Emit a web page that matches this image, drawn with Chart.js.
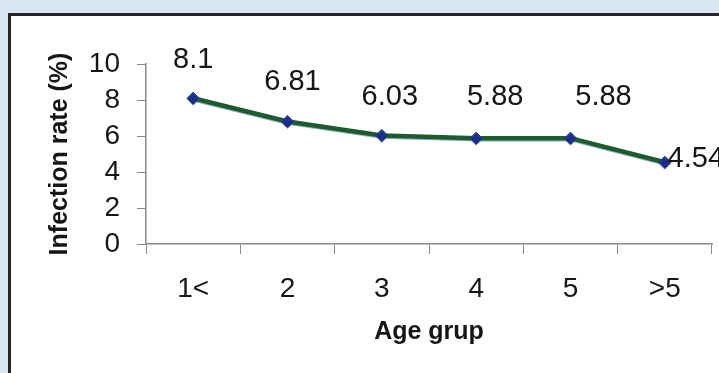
<!DOCTYPE html>
<html>
<head>
<meta charset="utf-8">
<script src="https://cdn.jsdelivr.net/npm/chart.js@4/dist/chart.umd.min.js"></script>
<style>
  html, body { margin: 0; padding: 0; }
  body { width: 719px; height: 373px; background: #d8e7f2; position: relative; overflow: hidden; }
  #frame { position: absolute; left: 8px; top: 13px; width: 720px; height: 370px;
           background: #ffffff; border-left: 3px solid #23272b; border-top: 3px solid #23272b; }
  #wrap { position: absolute; left: 0; top: 0; width: 719px; height: 373px; }
</style>
</head>
<body>
<div id="frame"></div>
<div id="wrap"><canvas id="chart" width="719" height="373"></canvas></div>
<script>
// Age groups and infection rates (%)
const ageGroups = ['1<', '2', '3', '4', '5', '>5'];
const infectionRates = [8.1, 6.81, 6.03, 5.88, 5.88, 4.54];
const yTicks = [0, 2, 4, 6, 8, 10];

// Where each value label sits relative to its point (px)
const labelOffsets = [[0, -38], [5, -39], [8, -38], [19, -41], [33, -41], [31, -3]];

const FONT = '"Liberation Sans", Arial, sans-serif';

const valueLabels = {
  id: 'valueLabels',
  afterDatasetsDraw(chart) {
    const { ctx } = chart;
    const meta = chart.getDatasetMeta(0);
    ctx.save();
    ctx.font = '29px ' + FONT;
    ctx.fillStyle = '#161616';
    ctx.textAlign = 'center';
    ctx.textBaseline = 'middle';
    meta.data.forEach((pt, i) => {
      const [dx, dy] = labelOffsets[i];
      ctx.fillText(String(infectionRates[i]), pt.x + dx, pt.y + dy);
    });
    ctx.restore();
  }
};

const lineShadow = {
  id: 'lineShadow',
  beforeDatasetDraw(chart) {
    const { ctx } = chart;
    ctx.save();
    ctx.shadowColor = 'rgba(40,110,130,0.55)';
    ctx.shadowOffsetX = 0;
    ctx.shadowOffsetY = 1;
    ctx.shadowBlur = 0;
  },
  afterDatasetDraw(chart) {
    chart.ctx.restore();
  }
};

const axisColor = '#8a8a8a';

new Chart(document.getElementById('chart'), {
  type: 'line',
  data: {
    labels: ageGroups,
    datasets: [{
      data: infectionRates,
      borderColor: '#1d5a30',
      borderWidth: 4.5,
      pointStyle: 'rectRot',
      pointRadius: 6,
      pointBackgroundColor: '#1c2c8a',
      pointBorderColor: '#1c2c8a',
      pointBorderWidth: 1,
      tension: 0,
      fill: false
    }]
  },
  options: {
    responsive: false,
    animation: false,
    events: [],
    layout: { padding: { left: 0, right: 7, top: 64, bottom: 0 } },
    plugins: { legend: { display: false }, tooltip: { enabled: false } },
    scales: {
      x: {
        offset: true,
        grid: { offset: true, drawOnChartArea: false, drawTicks: true, tickLength: 10, color: axisColor, lineWidth: 1 },
        border: { display: true, color: axisColor, width: 1.5 },
        ticks: { color: '#161616', padding: 18, font: { family: FONT, size: 28 } },
        title: { display: true, text: 'Age grup', color: '#161616', padding: { top: 0, bottom: 26 },
                 font: { family: FONT, size: 25, weight: 'bold' } },
        afterFit(scale) { scale.height = 129; }
      },
      y: {
        min: 0,
        max: 10,
        afterBuildTicks(scale) { scale.ticks = yTicks.map(v => ({ value: v })); },
        grid: { drawOnChartArea: false, drawTicks: true, tickLength: 9, color: axisColor, lineWidth: 1 },
        border: { display: true, color: axisColor, width: 1.5 },
        ticks: { color: '#161616', padding: 17, autoSkip: false, font: { family: FONT, size: 28 } },
        title: { display: true, text: 'Infection rate (%)', color: '#161616', padding: { top: 45, bottom: 0 },
                 font: { family: FONT, size: 25, weight: 'bold' } },
        afterFit(scale) { scale.width = 146; }
      }
    }
  },
  plugins: [lineShadow, valueLabels]
});
</script>
</body>
</html>
